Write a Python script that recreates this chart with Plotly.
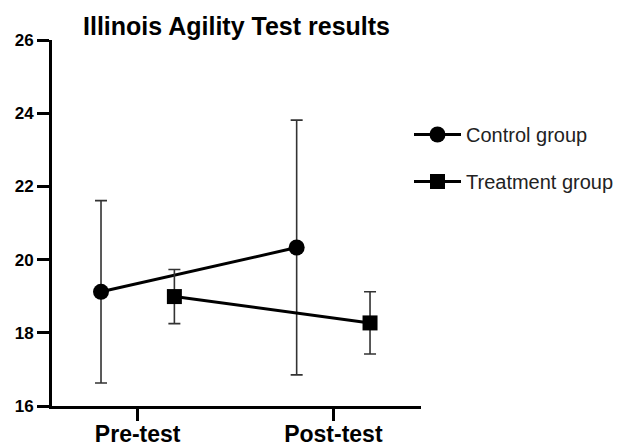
import plotly.graph_objects as go

categories = ["Pre-test", "Post-test"]
control_mean = [19.12, 20.33]
control_sd = [2.49, 3.48]
treatment_mean = [18.99, 18.27]
treatment_sd = [0.74, 0.85]
y_ticks = [16, 18, 20, 22, 24, 26]

FONT = "Liberation Sans, Arial, sans-serif"
W, H = 618, 440  # page body adds an 8px margin

fig = go.Figure()
fig.add_trace(go.Scatter(
    x=categories, y=control_mean, name="Control group", legendgroup="c",
    mode="lines+markers",
    line=dict(color="black", width=3),
    marker=dict(symbol="circle", size=16, color="black"),
    error_y=dict(type="data", array=control_sd, visible=True, color="#333333", thickness=1.6, width=6),
))
fig.add_trace(go.Scatter(
    x=categories, y=treatment_mean, name="Treatment group", legendgroup="t",
    mode="lines+markers",
    line=dict(color="black", width=3),
    marker=dict(symbol="square", size=15, color="black"),
    error_y=dict(type="data", array=treatment_sd, visible=True, color="#333333", thickness=1.6, width=6),
))

fig.update_layout(
    width=W, height=H,
    margin=dict(l=44, r=205, t=32, b=42, autoexpand=False),
    paper_bgcolor="white", plot_bgcolor="white",
    scattermode="group", scattergap=0.25,
    font=dict(family=FONT, color="black"),
    title=dict(text="<b>Illinois Agility Test results</b>", x=0.5, xref="paper", xanchor="center",
               y=(H - 18) / H, yref="container", yanchor="middle",
               font=dict(size=25, family=FONT, color="black")),
    legend=dict(x=401 / W, xref="container", xanchor="left", y=(H - 107) / H, yref="container",
                yanchor="top", font=dict(size=20, family=FONT, color="#222222"),
                tracegroupgap=18, itemwidth=47, bgcolor="rgba(0,0,0,0)"),
    showlegend=True,
)
fig.update_xaxes(
    type="category", range=[-0.438, 1.448], automargin=False,
    showline=True, linecolor="black", linewidth=3,
    ticks="outside", ticklen=12, tickwidth=3, tickcolor="black",
    showgrid=False, zeroline=False, ticklabelstandoff=-7,
    tickfont=dict(size=23, family=FONT, color="black"),
    tickprefix="<b>", ticksuffix="</b>",
)
fig.update_yaxes(
    range=[16, 26], tickvals=y_ticks, automargin=False,
    ticktext=[f"<b>{v}</b>" for v in y_ticks],
    showline=True, linecolor="black", linewidth=3,
    ticks="outside", ticklen=12, tickwidth=3, tickcolor="black",
    showgrid=False, zeroline=False,
    tickfont=dict(size=17, family=FONT, color="black"),
)

fig.write_html("out.html")
